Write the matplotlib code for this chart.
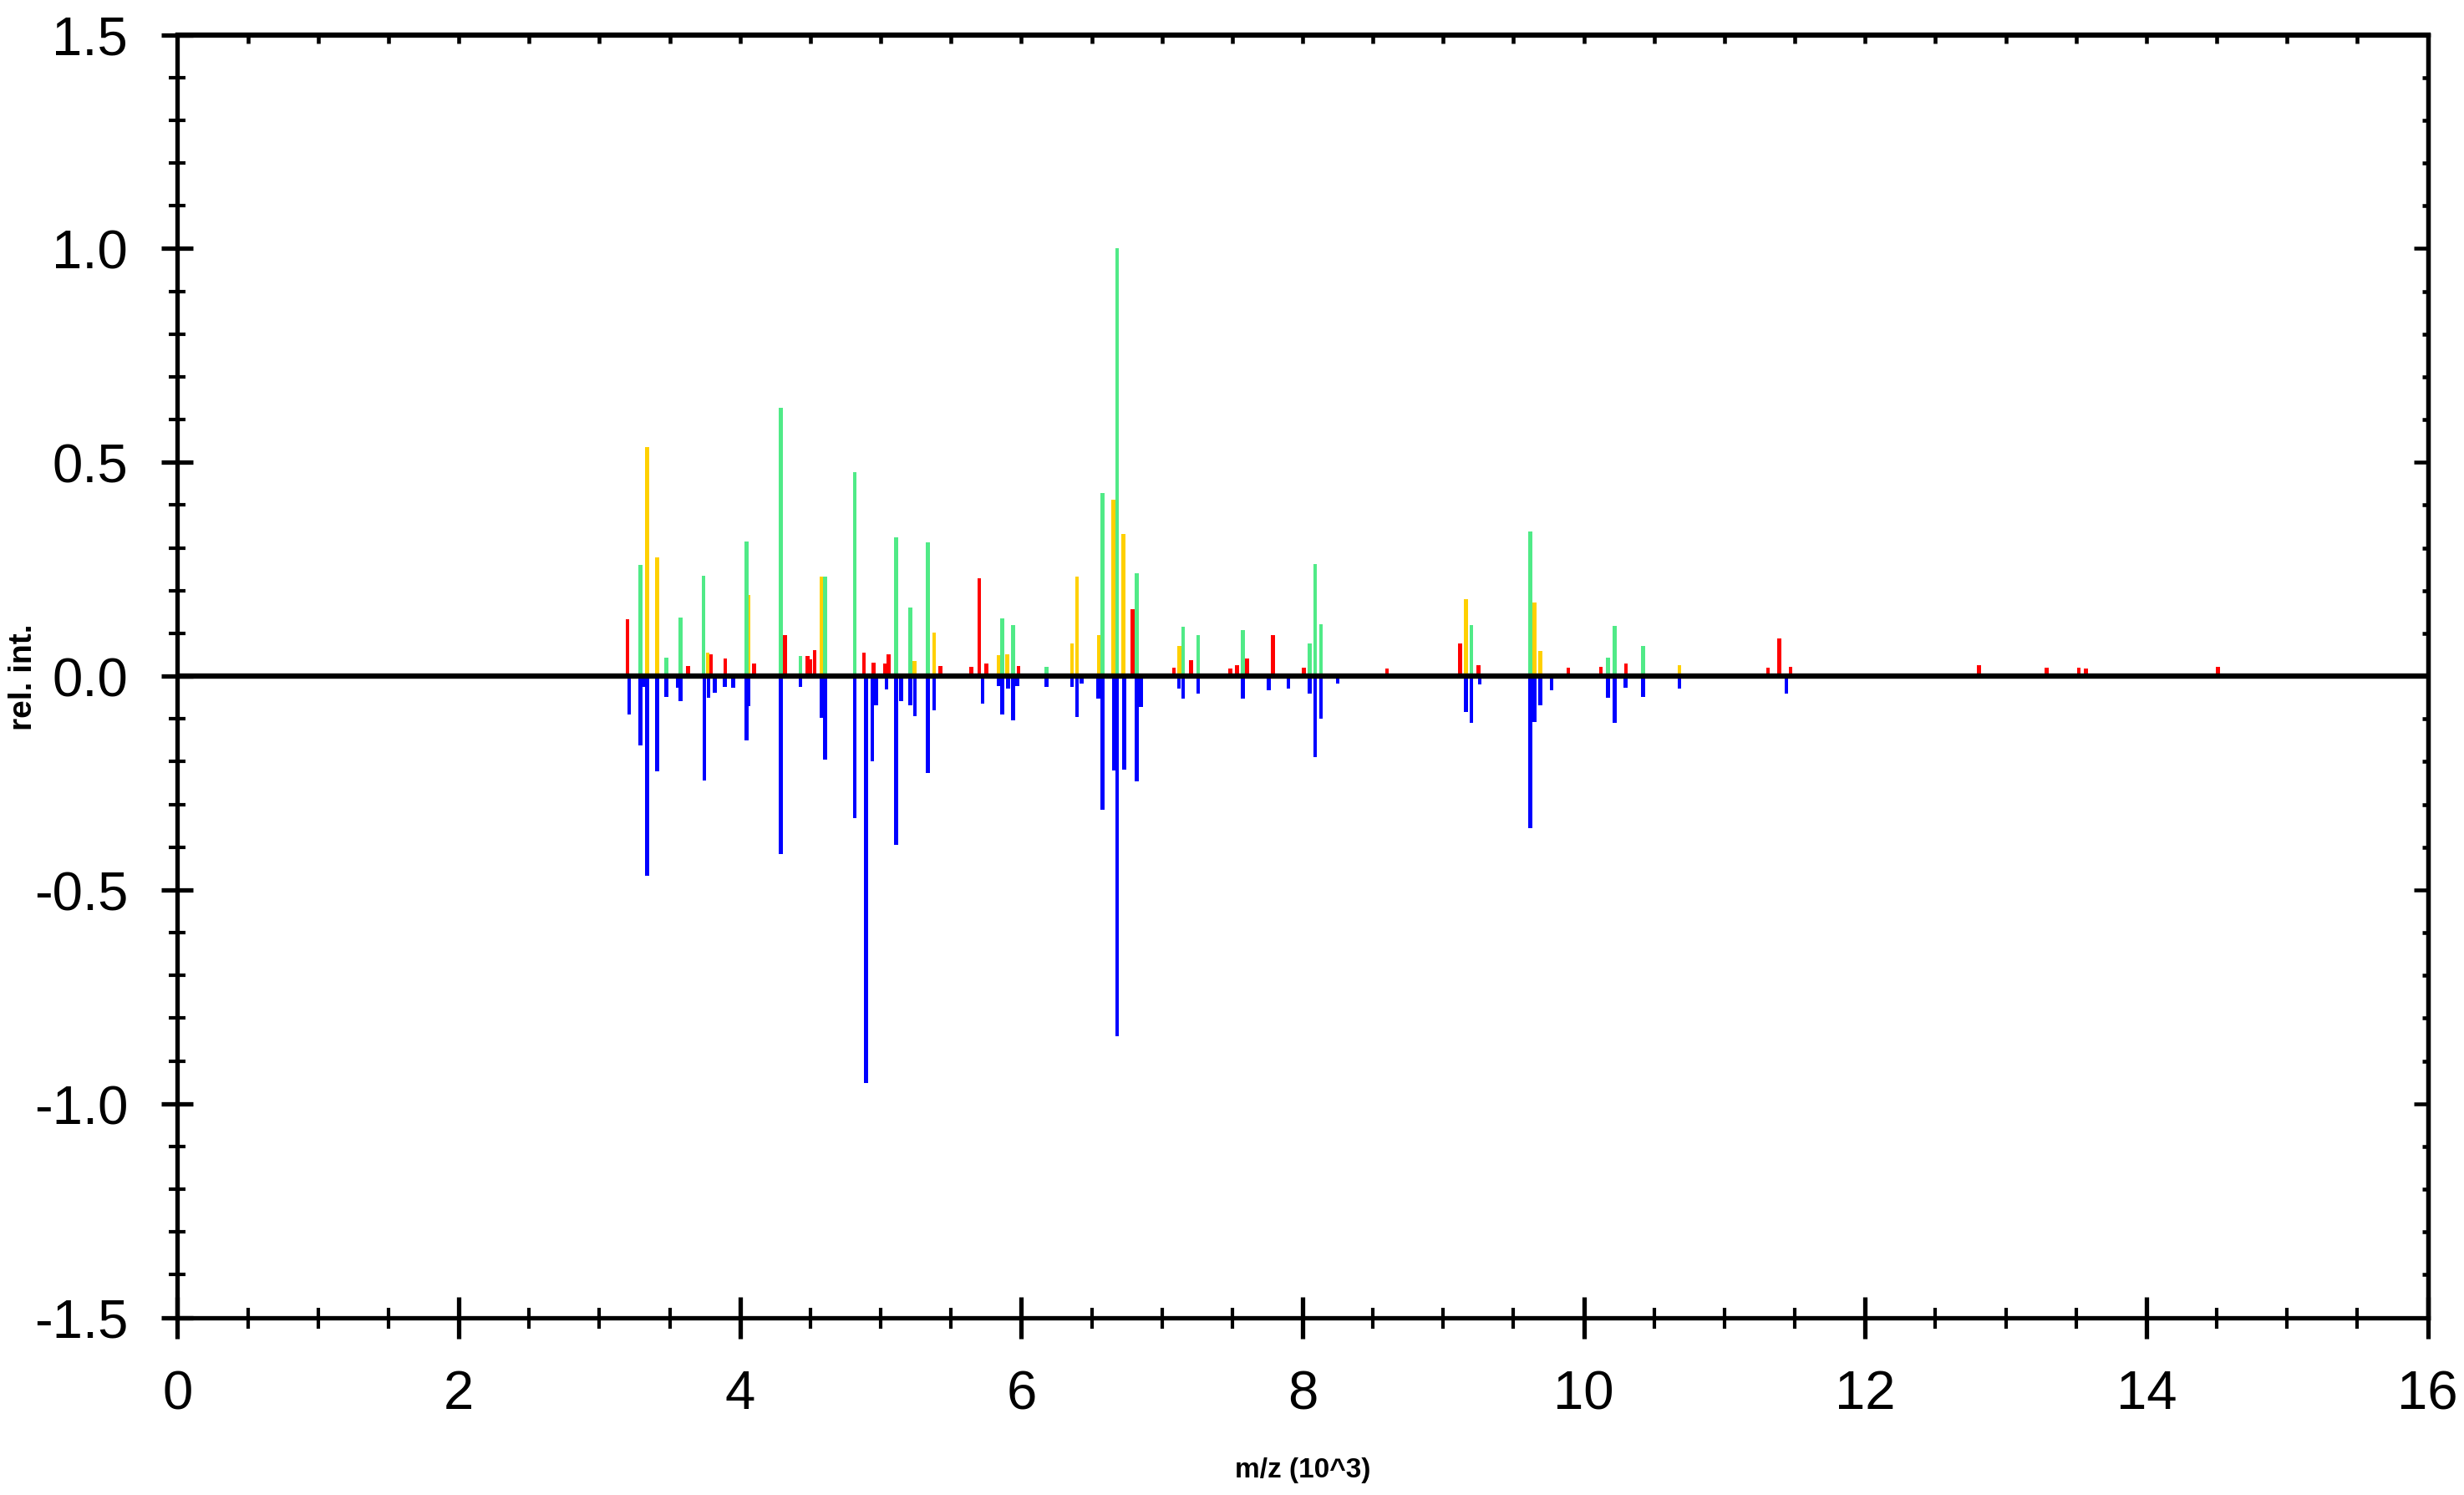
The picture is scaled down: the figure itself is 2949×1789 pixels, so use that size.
import numpy as np
import matplotlib
matplotlib.use("Agg")
import matplotlib.pyplot as plt
from matplotlib.ticker import MultipleLocator, FormatStrFormatter

# peak lists (m/z in 10^3, relative intensity)
red_mz = [3.20, 3.63, 3.79, 3.894, 4.10, 4.32, 4.48, 4.50, 4.53, 4.88, 4.95, 5.03, 5.055,
          5.425, 5.645, 5.70, 5.75, 5.98, 6.79, 7.085, 7.206, 7.486, 7.535, 7.605, 7.79,
          8.01, 8.60, 9.12, 9.25, 9.89, 10.12, 10.30, 11.31, 11.39, 11.47, 12.81, 13.29,
          13.52, 13.57, 14.51]
red_int = [0.133, 0.023, 0.050, 0.041, 0.030, 0.096, 0.047, 0.039, 0.061, 0.055, 0.031, 0.030, 0.050,
           0.023, 0.021, 0.229, 0.030, 0.023, 0.156, 0.019, 0.037, 0.018, 0.025, 0.041, 0.096,
           0.019, 0.018, 0.076, 0.025, 0.020, 0.022, 0.029, 0.020, 0.088, 0.021, 0.025, 0.020,
           0.020, 0.018, 0.022]

yellow_mz = [3.34, 3.41, 3.77, 4.06, 4.58, 5.24, 5.38, 5.84, 5.90, 6.36, 6.395, 6.55, 6.655,
             6.725, 7.123, 9.16, 9.65, 9.69, 10.68]
yellow_int = [0.535, 0.277, 0.055, 0.190, 0.233, 0.035, 0.101, 0.048, 0.050, 0.076, 0.233, 0.096, 0.412,
              0.332, 0.070, 0.180, 0.172, 0.059, 0.025]

green_mz = [3.29, 3.476, 3.576, 3.74, 4.045, 4.29, 4.43, 4.605, 4.815, 5.11, 5.21, 5.335, 5.865,
            5.94, 6.18, 6.577, 6.68, 6.82, 7.15, 7.258, 7.575, 8.05, 8.088, 8.13, 9.20, 9.62,
            10.17, 10.22, 10.42]
green_int = [0.260, 0.043, 0.137, 0.234, 0.315, 0.627, 0.047, 0.233, 0.477, 0.324, 0.160, 0.313, 0.135,
             0.120, 0.021, 0.428, 1.000, 0.240, 0.115, 0.096, 0.107, 0.076, 0.262, 0.121, 0.119, 0.338,
             0.043, 0.117, 0.070]

blue_mz = [3.21, 3.29, 3.31, 3.34, 3.41, 3.476, 3.56, 3.576, 3.745, 3.775, 3.82, 3.89, 3.95,
           4.045, 4.06, 4.29, 4.43, 4.58, 4.605, 4.815, 4.895, 4.94, 4.966, 5.04, 5.11, 5.145,
           5.21, 5.244, 5.335, 5.38, 5.725, 5.84, 5.865, 5.905, 5.94, 5.97, 6.18, 6.36, 6.396,
           6.43, 6.547, 6.577, 6.657, 6.68, 6.73, 6.82, 6.85, 7.12, 7.15, 7.258, 7.575, 7.76,
           7.90, 8.05, 8.088, 8.13, 8.25, 9.16, 9.20, 9.26, 9.62, 9.65, 9.69, 9.77, 10.17,
           10.22, 10.295, 10.42, 10.68, 11.44]
blue_int = [-0.090, -0.162, -0.025, -0.468, -0.223, -0.049, -0.027, -0.059, -0.245, -0.051, -0.039, -0.026, -0.027,
            -0.150, -0.070, -0.416, -0.026, -0.098, -0.196, -0.332, -0.951, -0.200, -0.068, -0.031, -0.395, -0.059,
            -0.068, -0.094, -0.226, -0.081, -0.064, -0.024, -0.090, -0.030, -0.104, -0.024, -0.025, -0.026, -0.095,
            -0.017, -0.053, -0.313, -0.221, -0.842, -0.218, -0.246, -0.073, -0.029, -0.052, -0.042, -0.052, -0.033,
            -0.030, -0.042, -0.190, -0.100, -0.018, -0.085, -0.110, -0.019, -0.355, -0.107, -0.068, -0.033, -0.050,
            -0.110, -0.027, -0.048, -0.029, -0.042]

tick_font = ['Liberation Sans', 'DejaVu Sans']
label_font = ['Liberation Sans', 'DejaVu Sans']

W, H = 2949, 1790
fig = plt.figure(figsize=(W / 100, H / 100), dpi=100)
left, right, top, bottom = 212.5, 2905.5, 42.5, 1577.5
ax = fig.add_axes([left / W, 1 - bottom / H, (right - left) / W, (bottom - top) / H])

bw = 0.027
ax.bar(red_mz, red_int, width=bw, color='#FF0000', linewidth=0)
ax.bar(yellow_mz, yellow_int, width=bw, color='#FFD000', linewidth=0)
ax.bar(green_mz, green_int, width=bw, color='#50EA87', linewidth=0)
ax.bar(blue_mz, blue_int, width=bw, color='#0000FF', linewidth=0)
ax.axhline(0, color='black', linewidth=4.6, zorder=5)

ax.set_xlim(0, 16)
ax.set_ylim(-1.5, 1.5)

for sp in ax.spines.values():
    sp.set_linewidth(3.8)

ax.xaxis.set_major_locator(MultipleLocator(2))
ax.xaxis.set_minor_locator(MultipleLocator(0.5))
ax.yaxis.set_major_locator(MultipleLocator(0.5))
ax.yaxis.set_minor_locator(MultipleLocator(0.1))
ax.yaxis.set_major_formatter(FormatStrFormatter('%.1f'))

ax.tick_params(axis='x', which='major', direction='inout', length=36.7, width=3.8, pad=26,
               top=False, labelsize=47)
ax.tick_params(axis='x', which='minor', direction='inout', length=18, width=3.0, top=False)
ax.tick_params(axis='y', which='major', direction='inout', length=27.4, width=3.8, pad=29,
               right=False, labelsize=47)
ax.tick_params(axis='y', which='minor', direction='inout', length=13.7, width=3.0, right=False)
for lab in ax.get_xticklabels() + ax.get_yticklabels():
    lab.set_family(tick_font)

# top and right frames carry their own inward ticks
sec_top = ax.secondary_xaxis('top')
sec_top.xaxis.set_major_locator(MultipleLocator(0.5))
sec_top.tick_params(direction='in', length=8, width=3.3, labeltop=False)
sec_top.spines['top'].set_linewidth(3.8)

sec_right = ax.secondary_yaxis('right')
sec_right.yaxis.set_major_locator(MultipleLocator(0.5))
sec_right.yaxis.set_minor_locator(MultipleLocator(0.1))
sec_right.tick_params(which='major', direction='in', length=12.2, width=3.3, labelright=False)
sec_right.tick_params(which='minor', direction='in', length=5.3, width=3.3)
sec_right.spines['right'].set_linewidth(3.8)

fig.text(28 / W, 1 - 810 / H, 'rel. int.', rotation=90, ha='center', va='center',
         fontsize=28, fontweight='bold', family=label_font)
fig.text((left + right) / 2 / W, 1 - 1760 / H, 'm/z (10^3)', ha='center', va='center',
         fontsize=24, fontweight='bold', family=label_font)

fig.savefig('out.png', dpi=100, facecolor='white')
